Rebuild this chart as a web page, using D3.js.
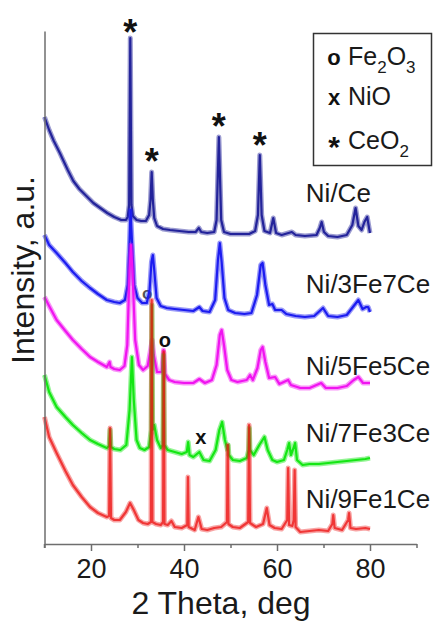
<!DOCTYPE html>
<html>
<head>
<meta charset="utf-8">
<script src="https://cdn.jsdelivr.net/npm/d3@7"></script>
<style>
  html, body { margin: 0; padding: 0; background: #fff; }
  svg { display: block; font-family: "Liberation Sans", Arial, Helvetica, sans-serif; }
</style>
</head>
<body>
<svg id="chart" width="438" height="622"></svg>
<script>
// XRD patterns, [2θ (deg), intensity (a.u., stacked offsets included)]
const niCe = [
  [10,427],[11,414],[12,403],[13.3,391],[14.5,379],[15,374],[16.2,363],[17.5,355],[19,348],[20.5,341],
  [22,336],[23.5,331],[25,327],[26.5,324],[27.5,324],[27.9,327],[28.2,339],[28.45,506],[28.7,339],[29.0,328],
  [29.8,324],[30.8,323],[31.8,323],[32.5,329],[32.8,344],[33.05,372],[33.3,344],[33.6,326],[34.2,318],[35.5,315],
  [37,314],[39,313],[41,312],[42.5,312],[43.2,316],[43.7,312],[45,311],[46.5,312],[47.0,324],[47.5,407],
  [48.0,324],[48.6,312],[50,310],[52,310],[54,310],[55.3,313],[55.9,329],[56.3,389],[56.7,329],[57.3,313],
  [58.5,311],[59.2,326],[59.8,311],[61,309],[63.2,312],[64,309],[66,308],[68.5,309],[69.2,316],[69.6,322],
  [70.1,312],[71,308],[73,307],[75,309],[76.2,319],[76.9,336],[77.5,318],[78.2,314],[78.8,322],[79.4,327],
  [79.8,316],[80,311]
];
const ni3Fe7Ce = [
  [10,309],[11,299],[12.6,291],[14.5,281],[16.1,272],[18,263],[19.8,256],[21.5,250],[23.4,244],[25,242],
  [26.2,241],[27.3,244],[27.9,259],[28.3,304],[28.5,334],[28.8,304],[29.3,259],[30,246],[31,241],[32,241],
  [32.6,254],[33.0,282],[33.3,289],[33.6,274],[34.1,246],[35,238],[36.3,236],[38,235],[40,234],[42,233],
  [43.3,237],[44,233],[45.5,232],[46.7,244],[47.3,284],[47.7,301],[48.1,282],[48.7,246],[49.5,234],[51,231],
  [53,230],[54.5,231],[55.7,249],[56.5,279],[56.9,281],[57.5,259],[58.3,239],[59,240],[59.6,234],[61,234],
  [62,230],[64,228],[66,227],[68,228],[69.9,236],[71,228],[73,227],[75,229],[76.5,238],[77.5,244],
  [78.4,235],[79.2,237],[79.6,237],[80,232]
];
const ni5Fe5Ce = [
  [10,247],[11,238],[12.6,224],[14.5,213],[16.1,204],[18,195],[19.8,187],[21.5,182],[23.4,177],[24.0,182],
  [24.2,177],[25,175],[26.2,174],[27.2,178],[27.8,199],[28.3,274],[28.6,299],[28.9,274],[29.5,204],[30.3,179],
  [31.2,174],[32.2,178],[32.8,194],[33.15,204],[33.5,189],[34.2,172],[35.2,172],[35.6,194],[35.9,170],[36.8,164],
  [38,162],[40,161],[42,161],[43.3,165],[44.5,161],[46,164],[47,179],[47.7,209],[48.1,214],[48.6,199],
  [49.3,174],[50.2,164],[51.5,162],[53.5,164],[54.2,169],[54.8,164],[55.8,176],[56.5,194],[56.9,197],[57.5,182],
  [58.3,166],[59.6,167],[60.5,160],[62.4,164],[63,159],[65,156],[67,156],[69.5,161],[70.5,156],[73,156],
  [75,158],[76.5,164],[77.5,167],[78.5,161],[80,161]
];
const ni7Fe3Ce = [
  [10,169],[11,152],[12.6,137],[14.5,127],[16.1,119],[18,111],[19.8,104],[21.5,100],[23.4,96],[23.9,98],
  [24.1,114],[24.3,97],[25,95],[26.3,94],[27.6,99],[28.3,134],[28.8,187],[29.2,144],[29.8,104],[30.5,96],
  [31.5,94],[32.5,97],[32.95,114],[33.1,239],[33.25,114],[33.6,119],[34.2,104],[35.0,96],[35.45,99],[35.6,189],
  [35.75,99],[36.5,94],[38,92],[39.5,90],[40.6,92],[40.9,102],[41.2,89],[42,87],[43.3,92],[44.2,84],
  [45.5,83],[46.8,94],[47.6,114],[48.2,122],[48.8,104],[49.35,94],[49.5,99],[49.65,89],[50.5,84],[52,83],
  [53.5,86],[53.9,94],[54.05,116],[54.2,94],[55,89],[56.2,99],[57.3,107],[58,94],[59,84],[60,82],
  [61.5,84],[62.2,94],[62.6,101],[63.0,89],[63.4,94],[63.9,101],[64.3,84],[65.5,79],[67,80],[69,80],
  [71,81],[73,82],[75,83],[77,84],[79,85],[80,86]
];
const ni9Fe1Ce = [
  [10,127],[11,107],[12.6,91],[14.5,73],[16.1,59],[18,47],[19.8,37],[21.5,31],[23.4,27],[23.9,28],
  [24.1,116],[24.3,26],[25,24],[26.2,24],[27.5,32],[28.4,41],[29.2,34],[30.2,24],[31.2,21],[32.2,20],
  [32.9,22],[33.05,244],[33.2,22],[34,20],[35.0,19],[35.5,22],[35.65,192],[35.8,20],[36.5,19],[37.3,23],
  [38,17],[39.5,16],[40.7,19],[40.85,67],[41.0,17],[42.3,14],[43.1,27],[43.8,15],[45,14],[46.5,16],
  [48,17],[49.25,22],[49.4,99],[49.55,20],[50.5,17],[52,16],[53.8,22],[54.0,119],[54.2,21],[55.5,17],
  [57.0,20],[57.8,36],[58.4,19],[59.5,16],[61,15],[62.2,24],[62.4,76],[62.6,19],[63.3,18],[63.6,24],
  [63.8,74],[64.0,17],[65,12],[67,13],[69,14],[71,13],[71.9,20],[72.1,29],[72.4,16],[74,14],
  [75.3,24],[75.5,31],[75.8,16],[77,15],[79,16],[80,15]
];

const sampleNames   = ["Ni/Ce", "Ni/3Fe7Ce", "Ni/5Fe5Ce", "Ni/7Fe3Ce", "Ni/9Fe1Ce"];
const sampleData    = [niCe, ni3Fe7Ce, ni5Fe5Ce, ni7Fe3Ce, ni9Fe1Ce];
const sampleColors  = ["#23239a", "#1c1cf0", "#f014f0", "#14e614", "#ee1414"];
const sampleOpacity = [1, 1, 1, 1, 0.85];
// name tags sit to the right of each trace: [2θ, intensity]
const nameTagPos    = [[66.2,342], [66.2,251], [66.2,169], [66.2,102], [66.2,36]];

// phase markers above reflections: [symbol, 2θ, intensity, size, colour]
const phaseMarks = [
  ["*", 28.45, 520, 36, "#111"],
  ["*", 33.05, 391, 36, "#111"],
  ["*", 47.5,  426, 36, "#111"],
  ["*", 56.3,  407, 36, "#111"],
  ["o", 32.1,  250, 17, "#555"],
  ["o", 35.9,  202, 20, "#111"],
  ["x", 43.6,  105, 20, "#111"]
];

// legend rows: symbol, base text, subscript parts
const legendSymbols = ["o", "x", "*"];
const legendLabels  = [[["Fe",""],["2","sub"],["O",""],["3","sub"]], [["NiO",""]], [["CeO",""],["2","sub"]]];

const xDomain     = [10, 90];
const yDomain     = [0, 513];
const xMajorTicks = [20, 40, 60, 80];
const xMinorTicks = [10, 30, 50, 70, 90];
const xTitle = "2 Theta, deg";
const yTitle = "Intensity, a.u.";

const svg = d3.select("#chart");
const x = d3.scaleLinear().domain(xDomain).range([44.5, 416.5]);
const y = d3.scaleLinear().domain(yDomain).range([544, 31]);
const axisColor = "#6e6e6e";

// markers drawn first so the traces sit over them
const markG = svg.append("g");
phaseMarks.forEach(([sym, t, v, fs, col]) => {
  const cy = y(v);
  const base = sym === "*" ? cy + 0.58 * fs : cy + 0.27 * fs;
  markG.append("text")
    .attr("x", x(t)).attr("y", base)
    .attr("text-anchor", "middle")
    .attr("font-size", fs).attr("font-weight", "bold")
    .attr("fill", col)
    .text(sym);
});

// traces: a soft wide band (counting noise) under a solid core line
const line = d3.line().x(d => x(d[0])).y(d => y(d[1]));
const traceG = svg.append("g");
sampleData.forEach((data, i) => {
  const g = traceG.append("g").attr("opacity", sampleOpacity[i]);
  g.append("path")
    .datum(data)
    .attr("d", line)
    .attr("fill", "none")
    .attr("stroke", sampleColors[i])
    .attr("stroke-opacity", 0.45)
    .attr("stroke-width", 5)
    .attr("stroke-linejoin", "round");
  g.append("path")
    .datum(data)
    .attr("d", line)
    .attr("fill", "none")
    .attr("stroke", sampleColors[i])
    .attr("stroke-width", 2.2)
    .attr("stroke-linejoin", "round");
});

// sample names
sampleNames.forEach((name, i) => {
  svg.append("text")
    .attr("x", x(nameTagPos[i][0])).attr("y", y(nameTagPos[i][1]))
    .attr("font-size", 26).attr("fill", "#1a1a1a")
    .text(name);
});

// x axis: labelled major ticks and short minor ticks
const xAxisG = svg.append("g").attr("transform", `translate(0,${y(0)})`);
xAxisG.call(d3.axisBottom(x).tickValues(xMajorTicks).tickSize(7).tickSizeOuter(0).tickPadding(8).tickFormat(d3.format("d")));
xAxisG.append("g").call(d3.axisBottom(x).tickValues(xMinorTicks).tickSize(4).tickSizeOuter(0).tickFormat(""))
  .select(".domain").remove();
xAxisG.selectAll("path, line").attr("stroke", axisColor).attr("stroke-width", 1.5);
xAxisG.selectAll("text").attr("font-size", 27).attr("fill", "#1a1a1a")
  .attr("font-family", "\"Liberation Sans\", Arial, sans-serif");

// y axis: plain line, no ticks
const yAxisG = svg.append("g").attr("transform", `translate(${x(xDomain[0])},0)`);
yAxisG.call(d3.axisLeft(y).tickValues([]).tickSizeOuter(0));
yAxisG.select(".domain").attr("stroke", axisColor).attr("stroke-width", 1.5);
yAxisG.append("line").attr("y1", y(0)).attr("y2", y(0) + 4)
  .attr("stroke", axisColor).attr("stroke-width", 1.5);

// axis titles
svg.append("text")
  .attr("x", 221).attr("y", 614)
  .attr("text-anchor", "middle").attr("font-size", 32).attr("fill", "#1a1a1a")
  .text(xTitle);
svg.append("text")
  .attr("transform", "translate(34,270) rotate(-90)")
  .attr("text-anchor", "middle").attr("font-size", 32).attr("fill", "#1a1a1a")
  .text(yTitle);

// legend
const legend = svg.append("g");
legend.append("rect")
  .attr("x", 313.5).attr("y", 33.5).attr("width", 118).attr("height", 132)
  .attr("fill", "#fff").attr("stroke", "#333").attr("stroke-width", 1.5);
const rowBase = [65, 105, 149];
legendSymbols.forEach((sym, i) => {
  legend.append("text")
    .attr("x", 334).attr("y", sym === "*" ? rowBase[i] + 8 : rowBase[i])
    .attr("text-anchor", "middle")
    .attr("font-size", sym === "*" ? 30 : 22).attr("font-weight", "bold")
    .attr("fill", "#111")
    .text(sym);
  const t = legend.append("text")
    .attr("x", 348).attr("y", rowBase[i])
    .attr("font-size", 25).attr("fill", "#1a1a1a");
  legendLabels[i].forEach(([s, kind]) => {
    const ts = t.append("tspan").text(s);
    if (kind === "sub") ts.attr("font-size", 17).attr("dy", 8);
    else if (t.selectAll("tspan").size() > 1) ts.attr("dy", -8);
  });
});
</script>
</body>
</html>
